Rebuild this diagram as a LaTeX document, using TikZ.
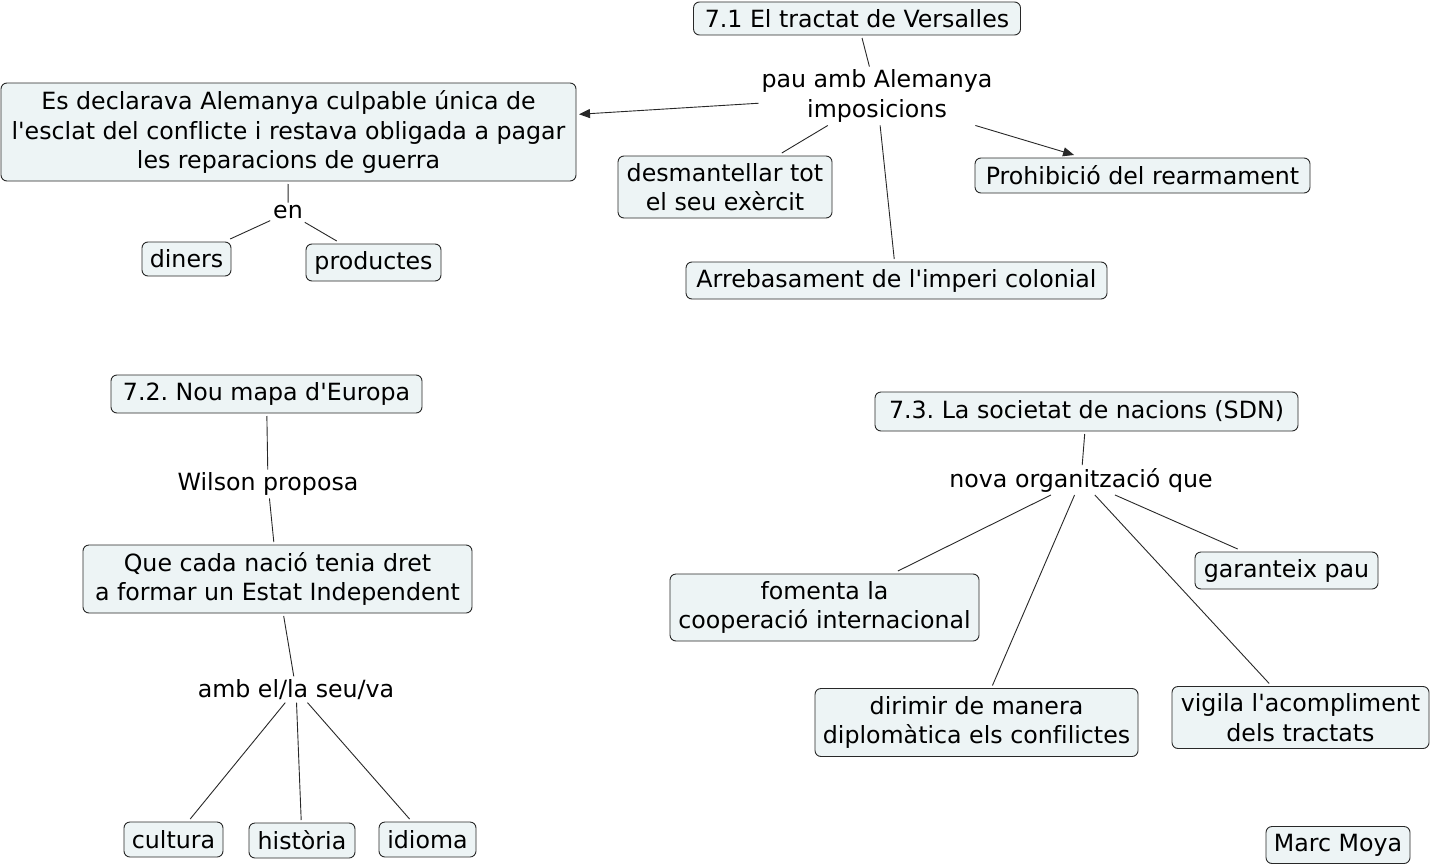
\documentclass[tikz,border=0pt]{standalone}
\usepackage{fontspec}
\setmainfont{DejaVu Sans}[Ligatures={TeXOff,NoCommon}]
\usetikzlibrary{arrows.meta}
\definecolor{cfill}{RGB}{237,244,245}
\definecolor{cline}{RGB}{40,40,40}
\tikzset{
  concept/.style={draw=cline, fill=cfill, rounded corners=6pt, line width=0.9pt,
    align=center, inner sep=0pt, outer sep=3pt, font=\fontsize{23.7}{29.5}\selectfont\frenchspacing},
  linkph/.style={align=center, inner sep=1pt, outer sep=2pt, font=\fontsize{23.7}{30}\selectfont\frenchspacing},
  conn/.style={draw=cline, line width=0.9pt},
  arr/.style={conn, -{Triangle[length=11pt,width=9pt]}}
}
\begin{document}
\begin{tikzpicture}[x=1pt,y=-1pt]
\useasboundingbox[fill=white] (0,0) rectangle (1431,867);
% concepts
\node[concept, minimum width=327pt, minimum height=33pt] (versalles) at (857,18.5) {7.1 El tractat de Versalles};
\node[concept, minimum width=575pt, minimum height=98pt] (culpable) at (288.5,132) {Es declarava Alemanya culpable única de\\l'esclat del conflicte i restava obligada a pagar\\les reparacions de guerra};
\node[concept, minimum width=214pt, minimum height=62pt] (desm) at (725,187) {desmantellar tot\\el seu exèrcit};
\node[concept, minimum width=335pt, minimum height=35pt] (prohib) at (1142.5,175.5) {Prohibició del rearmament};
\node[concept, minimum width=421pt, minimum height=37pt] (arreb) at (896.5,280.5) {Arrebasament de l'imperi colonial};
\node[concept, minimum width=89pt, minimum height=34pt] (diners) at (186.5,259) {diners};
\node[concept, minimum width=135pt, minimum height=37pt] (product) at (373.5,262.5) {productes};
\node[concept, minimum width=311pt, minimum height=38pt] (mapa) at (266.5,394) {7.2. Nou mapa d'Europa};
\node[concept, minimum width=389pt, minimum height=68pt] (nacio) at (277.5,579) {Que cada nació tenia dret\\a formar un Estat Independent};
\node[concept, minimum width=99pt, minimum height=35pt] (cultura) at (173.5,839.5) {cultura};
\node[concept, minimum width=106pt, minimum height=35pt] (historia) at (302,840.5) {història};
\node[concept, minimum width=97pt, minimum height=35pt] (idioma) at (427.5,839.5) {idioma};
\node[concept, minimum width=423pt, minimum height=39pt] (sdn) at (1086.5,411.5) {7.3. La societat de nacions (SDN)};
\node[concept, minimum width=309pt, minimum height=67pt] (fomenta) at (824.5,607.5) {fomenta la\\cooperació internacional};
\node[concept, minimum width=183pt, minimum height=37pt] (garant) at (1286.5,570.5) {garanteix pau};
\node[concept, minimum width=323pt, minimum height=68pt] (dirimir) at (976.5,722.5) {dirimir de manera\\diplomàtica els confilictes};
\node[concept, minimum width=257pt, minimum height=62pt] (vigila) at (1300.5,717.5) {vigila l'acompliment\\dels tractats};
\node[concept, minimum width=144pt, minimum height=37pt] (marc) at (1338,845) {Marc Moya};
% linking phrases
\node[linkph] (pau) at (877,96) {pau amb Alemanya\\imposicions};
\node[linkph] (en) at (288,212.5) {en};
\node[linkph] (wilson) at (268,484) {Wilson proposa};
\node[linkph] (amb) at (296,689.5) {amb el/la seu/va};
\node[linkph] (nova) at (1081,480) {nova organització que};
% connectors
\draw[conn] (versalles) -- (pau);
\draw[arr] (pau) -- (culpable);
\draw[conn] (pau) -- (desm);
\draw[conn] (pau) -- (arreb);
\draw[arr] (pau) -- (prohib);
\draw[conn] (culpable) -- (en);
\draw[conn] (en) -- (diners);
\draw[conn] (en) -- (product);
\draw[conn] (mapa) -- (wilson);
\draw[conn] (wilson) -- (nacio);
\draw[conn] (nacio) -- (amb);
\draw[conn] (amb) -- (cultura);
\draw[conn] (amb) -- (historia);
\draw[conn] (amb) -- (idioma);
\draw[conn] (sdn) -- (nova);
\draw[conn] (nova) -- (fomenta);
\draw[conn] (nova) -- (dirimir);
\draw[conn] (nova) -- (vigila);
\draw[conn] (nova) -- (garant);
\end{tikzpicture}
\end{document}
